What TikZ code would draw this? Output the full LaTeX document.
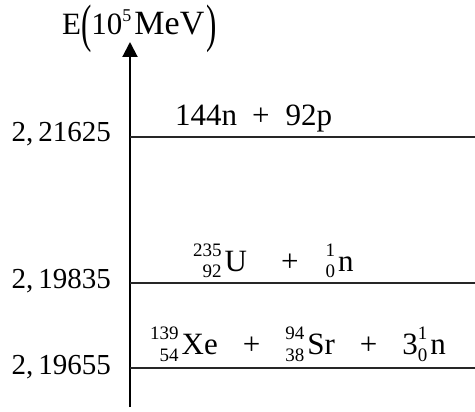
\documentclass[tikz,border=0pt]{standalone}
\usepackage{fontspec}
\setmainfont{Liberation Serif}
\usetikzlibrary{arrows.meta}
% isotope symbol with mass and charge numbers set in front, right aligned
\newcommand\nucl[3]{%
  \setbox0=\hbox{\fontsize{19}{19}\selectfont#1}%
  \setbox2=\hbox{\fontsize{19}{19}\selectfont#2}%
  \ifdim\wd0>\wd2 \dimen0=\wd0 \else \dimen0=\wd2 \fi
  \hbox to\dimen0{\hss\raise15pt\copy0}\kern-\dimen0
  \hbox to\dimen0{\hss\lower6pt\copy2}\kern3pt#3}
\newcommand\gap{\hspace{25pt}}
\begin{document}
\begin{tikzpicture}[x=1pt, y=-1pt,
    level/.style={draw=black!85, line width=1.8pt},
    tick/.style={font=\fontsize{29}{34}\selectfont, anchor=east, inner sep=0pt},
    react/.style={font=\fontsize{31}{36}\selectfont, anchor=base west, inner sep=0pt},
  ]
  \useasboundingbox (0,0) rectangle (475,412);
  % the energy axis
  \coordinate (bot) at (130,407);
  \coordinate (top) at (130,42);
  \draw[line width=2pt, -{Triangle[width=15pt,length=15pt]}] (bot) -- (top);
  \node[react] (axlab) at (62,35)
    {E\raisebox{-6pt}{\scalebox{1}[1.7]{(}}10\raise13pt\hbox{\fontsize{18}{18}\selectfont 5}\kern3pt{\fontsize{34}{36}\selectfont MeV}\kern2pt\raisebox{-6pt}{\scalebox{1}[1.7]{)}}};
  % Level 1: free nucleons
  \coordinate (a1) at (130,137);
  \coordinate (b1) at (475,137);
  \draw[level] (a1) -- (b1);
  \node[tick] (t1) at (111,134) {2,\,21625};
  \node[react] (r1) at (175,126) {144n\hspace{15pt}+\hspace{16pt}92p};
  % Level 2: uranium and neutron
  \coordinate (a2) at (130,283);
  \coordinate (b2) at (475,283);
  \draw[level] (a2) -- (b2);
  \node[tick] (t2) at (111,281) {2,\,19835};
  \node[react] (r2) at (193,272) {\nucl{235}{92}{U}\hspace{34pt}+\hspace{27pt}\nucl{1}{0}{n}};
  % Level 3: fission products
  \coordinate (a3) at (130,368);
  \coordinate (b3) at (475,368);
  \draw[level] (a3) -- (b3);
  \node[tick] (t3) at (111,367) {2,\,19655};
  \node[react] (r3) at (150,355) {\nucl{139}{54}{Xe}\gap+\gap\nucl{94}{38}{Sr}\gap+\gap3\nucl{1}{0}{n}};
\end{tikzpicture}
\end{document}
